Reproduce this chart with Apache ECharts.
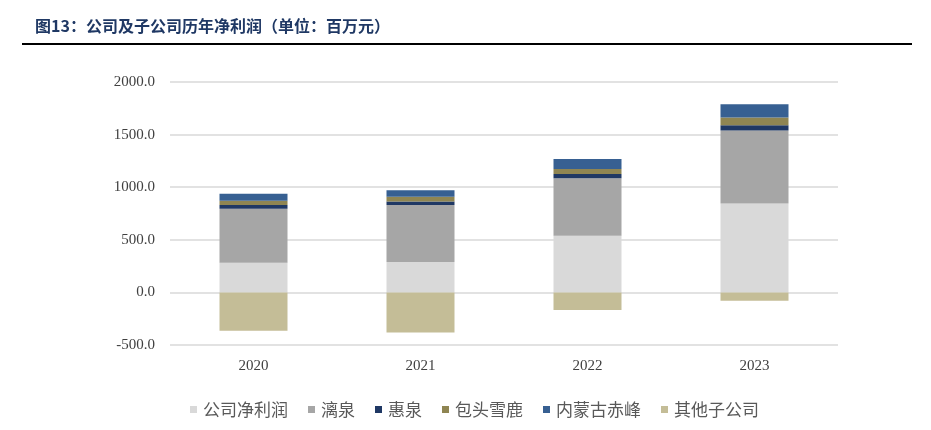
<!DOCTYPE html>
<html><head><meta charset="utf-8">
<script src="https://cdn.jsdelivr.net/npm/echarts@6/dist/echarts.min.js"></script>
<style>html,body{margin:0;padding:0;background:#fff}#c{width:931px;height:430px}</style>
</head><body><div id="c"></div>
<script>
const categories = ['2020','2021','2022','2023'];
const companyProfit = [282, 289, 538, 846];
const liquan = [513, 542, 546, 694];
const huiquan = [35, 34, 41, 50];
const baotou = [41, 45, 48, 73];
const chifeng = [67, 60, 95, 126];
const others = [-364, -380, -168, -80];
const seriesNames = ['公司净利润','漓泉','惠泉','包头雪鹿','内蒙古赤峰','其他子公司'];
const seriesData = [companyProfit, liquan, huiquan, baotou, chifeng, others];
const colors = ['#d9d9d9','#a6a6a6','#1f3864','#8f8552','#376092','#c4bd97'];
const yTicks = [-500, 0, 500, 1000, 1500, 2000];

const chart = echarts.init(document.getElementById('c'));
chart.setOption({
  animation: false,
  color: colors,
  title: {
    text: '图13：公司及子公司历年净利润（单位：百万元）',
    left: 30, top: 13,
    textStyle: {fontFamily: '"Noto Sans CJK SC"', fontSize: 16, fontWeight: 'bold', color: '#1f3864'}
  },
  graphic: [{type: 'rect', shape: {x: 22, y: 43, width: 890, height: 2}, style: {fill: '#000'}}],
  legend: {
    left: 185, top: 396, itemWidth: 7, itemHeight: 7, itemGap: 20,
    icon: 'rect',
    textStyle: {fontFamily: '"Noto Sans CJK SC"', fontSize: 17, color: '#595959', padding: [0, 0, 0, 1]},
    data: seriesNames
  },
  grid: {left: 170, right: 93, top: 82, bottom: 85},
  xAxis: {
    type: 'category', data: categories,
    axisLine: {show: false}, axisTick: {show: false},
    axisLabel: {fontFamily: '"Liberation Serif"', fontSize: 15, color: '#404040', margin: 14}
  },
  yAxis: {
    type: 'value', min: yTicks[0], max: yTicks[yTicks.length-1], interval: 500,
    axisLine: {show: false}, axisTick: {show: false},
    splitLine: {lineStyle: {color: '#d9d9d9', width: 1.5}},
    axisLabel: {fontFamily: '"Liberation Serif"', fontSize: 15, color: '#404040', margin: 15,
      formatter: v => v.toFixed(1)}
  },
  series: seriesNames.map((n, i) => ({
    name: n, type: 'bar', stack: 'total', data: seriesData[i],
    barWidth: 68
  }))
});
</script></body></html>
